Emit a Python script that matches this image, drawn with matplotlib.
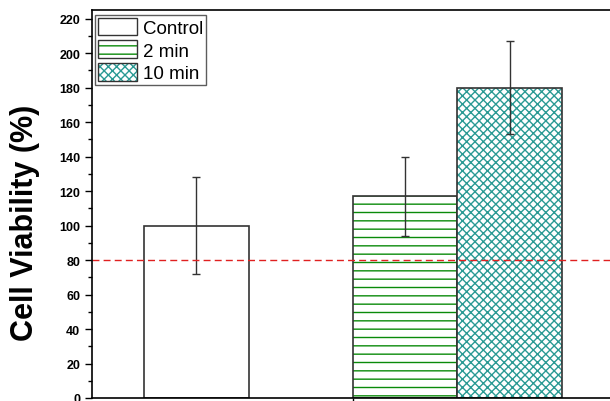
import matplotlib.pyplot as plt
from matplotlib.patches import Patch
from matplotlib.legend_handler import HandlerTuple
from matplotlib.ticker import MultipleLocator

groups = ["Control", "2 min", "10 min"]
viability = [100, 117, 180]
errors = [28, 23, 27]
positions = [1, 3, 4]
hatches = ["", "--", "xxxx"]
hatch_colors = ["white", "#0a8a0a", "#2a9a94"]
threshold = 80

plt.rcParams['font.family'] = ['Liberation Sans', 'DejaVu Sans']
plt.rcParams['hatch.linewidth'] = 1.0

fig = plt.figure(figsize=(6.1, 4.02), dpi=100)
ax = fig.add_axes([92 / 610, 3 / 402, 522 / 610, 388 / 402])

handles = []
for x, v, e, h, hc in zip(positions, viability, errors, hatches, hatch_colors):
    # hatch layer coloured, outline layer dark
    ax.bar(x, v, width=1, color="white", edgecolor=hc, hatch=h, linewidth=0)
    ax.bar(x, v, width=1, fill=False, edgecolor="#333333", linewidth=1.2)
    ax.errorbar(x, v, yerr=e, color="#333333", elinewidth=1, capsize=3, capthick=1)
    hp = Patch(facecolor="white", edgecolor=hc, hatch=h, linewidth=0)
    ep = Patch(fill=False, edgecolor="#333333", linewidth=1)
    handles.append((hp, ep))

ax.axhline(threshold, color="#e02020", linestyle=(0, (5, 3)), linewidth=1)

ax.set_xlim(0, 5)
ax.set_ylim(0, 225)
ax.set_xticks([2.5])
ax.set_xticklabels([])
ax.yaxis.set_major_locator(MultipleLocator(20))
ax.yaxis.set_minor_locator(MultipleLocator(10))
ax.tick_params(axis='y', which='major', direction='out', length=5, width=1, labelsize=9)
ax.tick_params(axis='y', which='minor', direction='out', length=3, width=1)
ax.tick_params(axis='x', direction='out', length=4, width=1)
for t in ax.get_yticklabels():
    t.set_fontweight('bold')
for s in ax.spines.values():
    s.set_linewidth(1.2)

ax.set_ylabel("Cell Viability (%)", fontsize=22, fontweight='bold')
ax.yaxis.set_label_coords(-52 / 522, 0.455)

leg = ax.legend(handles, groups, handler_map={tuple: HandlerTuple(ndivide=1, pad=0)},
                loc='upper left', bbox_to_anchor=(0.0, 0.995), fontsize=13.5,
                handlelength=2.1, handleheight=1.05, handletextpad=0.3,
                labelspacing=0.2, borderpad=0.15, borderaxespad=0.15, fancybox=False)
leg.get_frame().set_edgecolor("#333333")
leg.get_frame().set_linewidth(1)

fig.savefig("out.png", dpi=100)
